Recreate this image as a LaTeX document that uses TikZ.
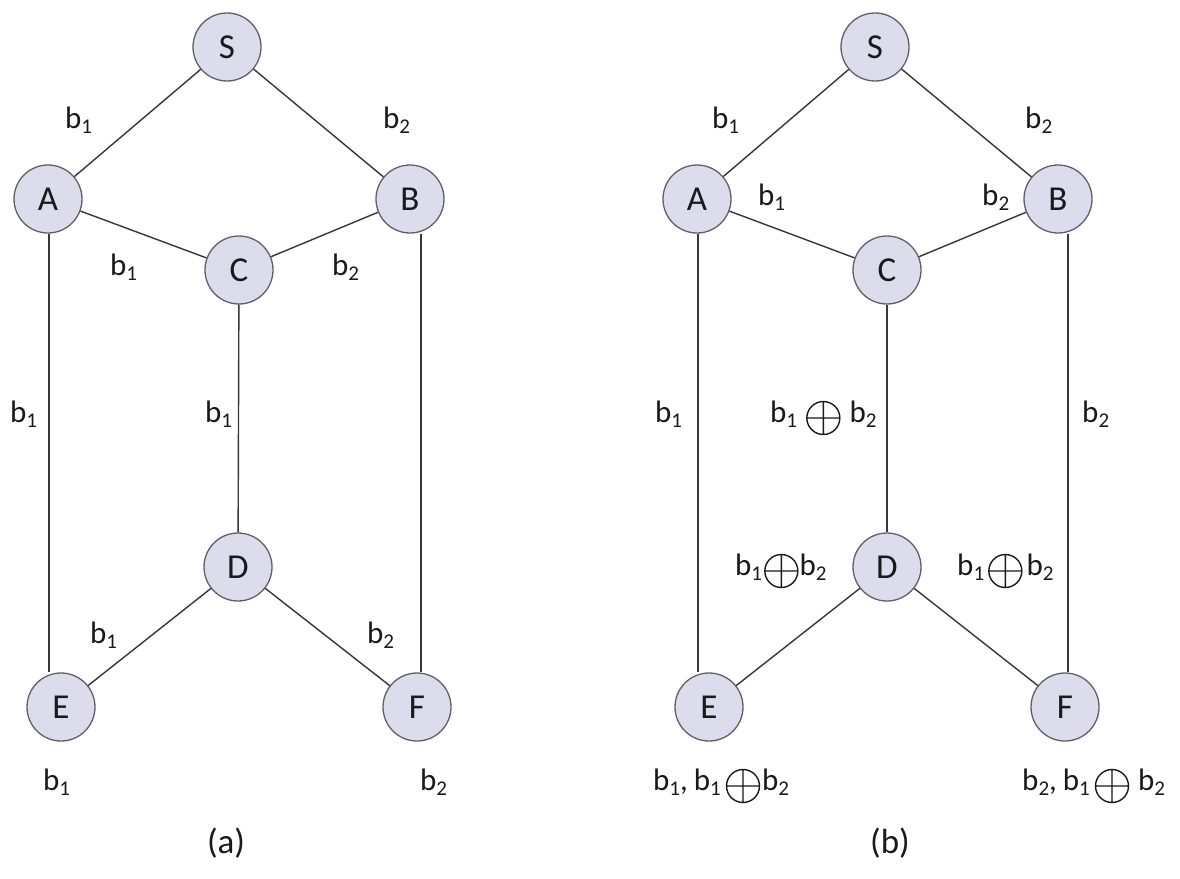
\documentclass[tikz,border=0pt]{standalone}
\usepackage{fontspec}
\setmainfont{Carlito}
\definecolor{nodefill}{RGB}{221,220,236}
\definecolor{nodeline}{RGB}{95,95,105}
\definecolor{edgecol}{RGB}{55,55,55}
\definecolor{txtcol}{RGB}{25,25,30}
\newsavebox\xobox
\newcommand\bsub[2]{#1\raisebox{-5pt}{\fontsize{21}{21}\selectfont #2}}
\newcommand\xo{\usebox\xobox}
\begin{document}
\sbox\xobox{\begin{pgfpicture}\pgfsetlinewidth{1.4pt}\pgfsetstrokecolor{txtcol}%
\pgfpathcircle{\pgfpoint{17pt}{4pt}}{16.5pt}%
\pgfpathmoveto{\pgfpoint{0.5pt}{4pt}}\pgfpathlineto{\pgfpoint{33.5pt}{4pt}}%
\pgfpathmoveto{\pgfpoint{17pt}{-12.5pt}}\pgfpathlineto{\pgfpoint{17pt}{20.5pt}}%
\pgfusepath{stroke}\pgfsetbaseline{0pt}\end{pgfpicture}}%
\begin{tikzpicture}[x=1pt,y=-1pt,
  vtx/.style={circle,draw=nodeline,fill=nodefill,line width=1.3pt,minimum size=68pt,inner sep=0pt,
    font=\fontsize{35}{35}\selectfont,text=txtcol},
  edge/.style={draw=edgecol,line width=1.4pt},
  lab/.style={anchor=base west,inner sep=0pt,font=\fontsize{31}{31}\selectfont,text=txtcol},
  captext/.style={inner sep=0pt,font=\fontsize{35}{35}\selectfont,text=txtcol}]
\useasboundingbox[fill=white] (0,0) rectangle (1180,878);
% ---------- panel (a) ----------
\node[vtx] (S1) at (227,47) {S};
\node[vtx] (A1) at (48,199) {A};
\node[vtx] (B1) at (410,199) {B};
\node[vtx] (C1) at (239,270) {C};
\node[vtx] (D1) at (238,567) {D};
\node[vtx] (E1) at (61,707) {E};
\node[vtx] (F1) at (417,707) {F};
\coordinate (xa1) at (49,0);
\coordinate (xb1) at (421,0);
\path[edge] (S1) -- (A1);
\path[edge] (S1) -- (B1);
\path[edge] (A1) -- (C1);
\path[edge] (B1) -- (C1);
\path[edge] (C1) -- (D1);
\path[edge] (D1) -- (E1);
\path[edge] (D1) -- (F1);
\path[edge] (A1.south -| xa1) -- (E1.north -| xa1);
\path[edge] (B1.south -| xb1) -- (F1.north -| xb1);
\node[lab] (la1) at (65,128) {\bsub{b}{1}};
\node[lab] (la2) at (383,128) {\bsub{b}{2}};
\node[lab] (la3) at (110,275) {\bsub{b}{1}};
\node[lab] (la4) at (332,275) {\bsub{b}{2}};
\node[lab] (la5) at (10,422) {\bsub{b}{1}};
\node[lab] (la6) at (205,422) {\bsub{b}{1}};
\node[lab] (la7) at (90,643) {\bsub{b}{1}};
\node[lab] (la8) at (367,643) {\bsub{b}{2}};
\node[lab] (la9) at (43,790) {\bsub{b}{1}};
\node[lab] (la10) at (420,790) {\bsub{b}{2}};
\node[captext] (capa) at (226,843) {(a)};
% ---------- panel (b) ----------
\node[vtx] (S2) at (875,47) {S};
\node[vtx] (A2) at (697,199) {A};
\node[vtx] (B2) at (1058,199) {B};
\node[vtx] (C2) at (887,270) {C};
\node[vtx] (D2) at (887,567) {D};
\node[vtx] (E2) at (709,707) {E};
\node[vtx] (F2) at (1065,707) {F};
\coordinate (xa2) at (698,0);
\coordinate (xb2) at (1068,0);
\path[edge] (S2) -- (A2);
\path[edge] (S2) -- (B2);
\path[edge] (A2) -- (C2);
\path[edge] (B2) -- (C2);
\path[edge] (C2) -- (D2);
\path[edge] (D2) -- (E2);
\path[edge] (D2) -- (F2);
\path[edge] (A2.south -| xa2) -- (E2.north -| xa2);
\path[edge] (B2.south -| xb2) -- (F2.north -| xb2);
\node[lab] (lb1) at (712,128) {\bsub{b}{1}};
\node[lab] (lb2) at (1025,128) {\bsub{b}{2}};
\node[lab] (lb3) at (758,205) {\bsub{b}{1}};
\node[lab] (lb4) at (982,205) {\bsub{b}{2}};
\node[lab] (lb5) at (655,422) {\bsub{b}{1}};
\node[lab] (lb6) at (770,422) {\bsub{b}{1}\hspace{9pt}\xo\hspace{9pt}\bsub{b}{2}};
\node[lab] (lb7) at (1082,422) {\bsub{b}{2}};
\node[lab] (lb8) at (735,575) {\bsub{b}{1}\hspace{2pt}\xo\hspace{1pt}\bsub{b}{2}};
\node[lab] (lb9) at (957,575) {\bsub{b}{1}\hspace{4pt}\xo\hspace{4pt}\bsub{b}{2}};
\node[lab] (lb10) at (653,790) {\bsub{b}{1},\hspace{6pt}\bsub{b}{1}\hspace{5pt}\xo\hspace{2pt}\bsub{b}{2}};
\node[lab] (lb11) at (1022,790) {\bsub{b}{2},\hspace{6pt}\bsub{b}{1}\hspace{5pt}\xo\hspace{9pt}\bsub{b}{2}};
\node[captext] (capb) at (890,843) {(b)};
\end{tikzpicture}
\end{document}
